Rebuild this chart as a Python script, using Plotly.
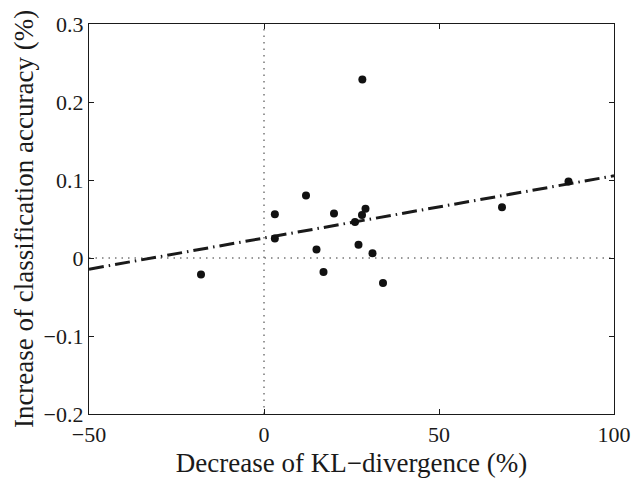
import numpy as np
import plotly.graph_objects as go

kl_decrease = [-18, 3.1, 3.1, 12, 15, 17, 20, 26, 27, 28, 28.1, 29, 31, 34, 68, 87]
acc_increase = [-0.021, 0.056, 0.025, 0.080, 0.011, -0.018, 0.057, 0.046, 0.017,
                0.055, 0.229, 0.063, 0.006, -0.032, 0.065, 0.098]
x_range = [-50, 100]
y_range = [-0.2, 0.3]
x_ticks = [-50, 0, 50, 100]
y_ticks = [-0.2, -0.1, 0, 0.1, 0.2, 0.3]
y_tick_text = ["\u22120.2", "\u22120.1", "0", "0.1", "0.2", "0.3"]

slope, intercept = np.polyfit(kl_decrease, acc_increase, 1)
fit_x = np.array(x_range, dtype=float)
fit_y = slope * fit_x + intercept

font = "Liberation Serif, Times New Roman, serif"

fig = go.Figure()
# zero reference lines
fig.add_trace(go.Scatter(x=x_range, y=[0, 0], mode="lines",
                         line=dict(color="#333", width=1, dash="1.5px,5px"),
                         hoverinfo="skip", showlegend=False))
fig.add_trace(go.Scatter(x=[0, 0], y=y_range, mode="lines",
                         line=dict(color="#333", width=1, dash="1.5px,5px"),
                         hoverinfo="skip", showlegend=False))
# fitted line
fig.add_trace(go.Scatter(x=fit_x, y=fit_y, mode="lines",
                         line=dict(color="#1a1a1a", width=3, dash="15px,5px,1.5px,5px"),
                         showlegend=False))
# data points
fig.add_trace(go.Scatter(x=kl_decrease, y=acc_increase, mode="markers",
                         marker=dict(color="#111", size=8),
                         showlegend=False))

axis_common = dict(showline=True, linecolor="#1a1a1a", linewidth=1.3, mirror="ticks",
                   ticks="inside", ticklen=5, tickcolor="#1a1a1a", tickwidth=1,
                   showgrid=False, zeroline=False,
                   tickfont=dict(family=font, size=22, color="#1a1a1a"))

fig.update_xaxes(range=x_range, tickvals=x_ticks,
                 title=dict(text="Decrease of KL\u2212divergence (%)",
                            font=dict(family=font, size=27, color="#1a1a1a"), standoff=7),
                 **axis_common)
fig.update_yaxes(range=y_range, tickvals=y_ticks, ticktext=y_tick_text,
                 title=dict(text="Increase of classification accuracy (%)",
                            font=dict(family=font, size=27, color="#1a1a1a"), standoff=2),
                 **axis_common)

fig.update_layout(width=643, height=484, margin=dict(l=89, r=19, t=18, b=70),
                  plot_bgcolor="white", paper_bgcolor="white")

fig.write_html("out.html")
